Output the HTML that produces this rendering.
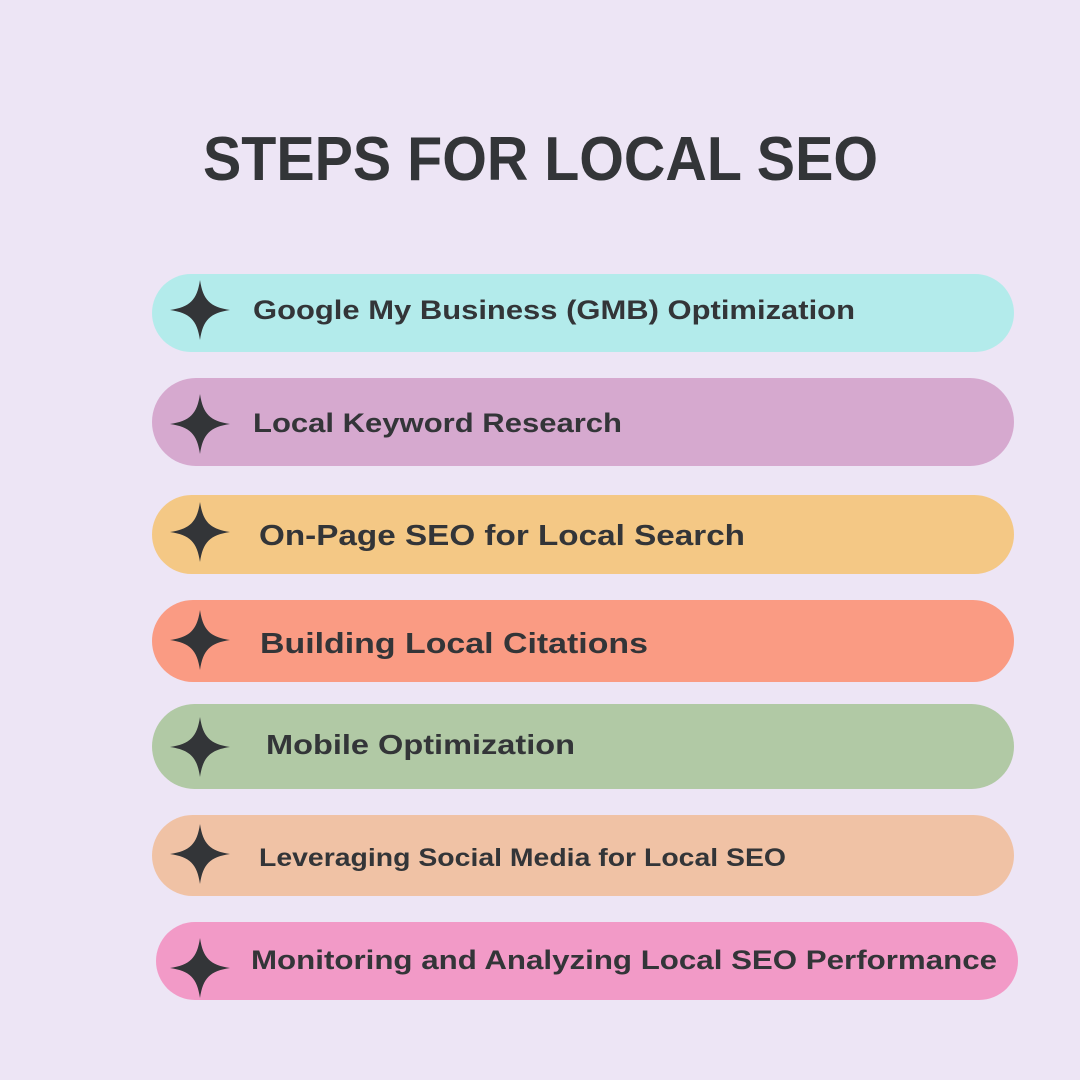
<!DOCTYPE html>
<html><head><meta charset="utf-8"><style>
html,body{margin:0;padding:0;background:#ede5f5;}
svg{display:block}
text{font-family:"Liberation Sans",sans-serif;font-weight:bold;fill:#333538}
</style></head><body>
<svg width="1080" height="1080" viewBox="0 0 1080 1080">
<rect width="1080" height="1080" fill="#ede5f5"/>
<defs><path id="s" d="M0,-30 C3,-10 10,-3 30,0 C10,3 3,10 0,30 C-3,10 -10,3 -30,0 C-10,-3 -3,-10 0,-30Z" fill="#333538"/></defs>
<text x="203" y="180" font-size="62" textLength="675" lengthAdjust="spacingAndGlyphs">STEPS FOR LOCAL SEO</text>
<rect x="152" y="274" width="862" height="78" rx="39" fill="#b3ebeb"/>
<rect x="152" y="378" width="862" height="88" rx="44" fill="#d6a9cf"/>
<rect x="152" y="495" width="862" height="79" rx="39.5" fill="#f4c885"/>
<rect x="152" y="600" width="862" height="82" rx="41" fill="#fa9b83"/>
<rect x="152" y="704" width="862" height="85" rx="42.5" fill="#b1c9a5"/>
<rect x="152" y="815" width="862" height="81" rx="40.5" fill="#f0c2a5"/>
<rect x="156" y="922" width="862" height="78" rx="39" fill="#f29ac7"/>
<use href="#s" x="200" y="310"/>
<use href="#s" x="200" y="424"/>
<use href="#s" x="200" y="532"/>
<use href="#s" x="200" y="640"/>
<use href="#s" x="200" y="747"/>
<use href="#s" x="200" y="854"/>
<use href="#s" x="200" y="968"/>
<text x="253" y="319" font-size="27" textLength="602" lengthAdjust="spacingAndGlyphs">Google My Business (GMB) Optimization</text>
<text x="253" y="432" font-size="27" textLength="369" lengthAdjust="spacingAndGlyphs">Local Keyword Research</text>
<text x="259" y="545" font-size="29" textLength="486" lengthAdjust="spacingAndGlyphs">On-Page SEO for Local Search</text>
<text x="260" y="653" font-size="29" textLength="388" lengthAdjust="spacingAndGlyphs">Building Local Citations</text>
<text x="266" y="754" font-size="28" textLength="309" lengthAdjust="spacingAndGlyphs">Mobile Optimization</text>
<text x="259" y="866" font-size="25" textLength="527" lengthAdjust="spacingAndGlyphs">Leveraging Social Media for Local SEO</text>
<text x="251" y="969" font-size="27" textLength="746" lengthAdjust="spacingAndGlyphs">Monitoring and Analyzing Local SEO Performance</text>
</svg>
</body></html>
